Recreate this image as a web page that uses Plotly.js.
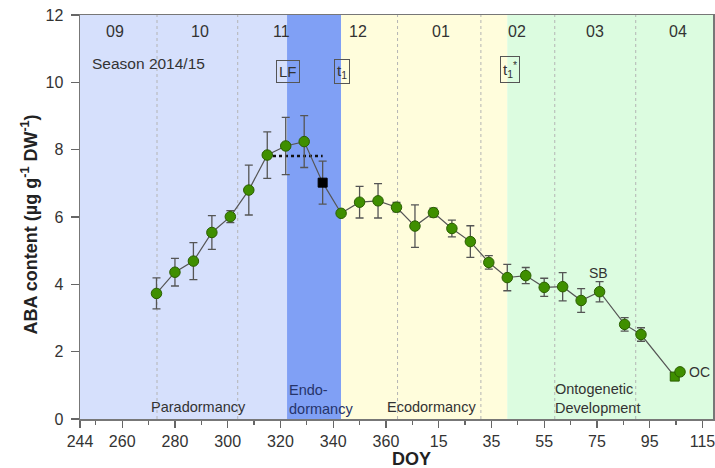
<!DOCTYPE html>
<html>
<head>
<meta charset="utf-8">
<script src="https://cdn.plot.ly/plotly-3.0.1.min.js"></script>
<style>html,body{margin:0;padding:0;background:#fff;}#chart{width:715px;height:468px;}</style>
</head>
<body>
<div id="chart"></div>
<script>
// ---- Data ----
const doy = [273,280,287,294,301,308,315,322,329,336,343,350,357,364,371,378,385,392,399,406,413,420,427,434,441,450.5,456.7,469.5,471.5];
const aba = [3.73,4.36,4.69,5.54,6.01,6.80,7.84,8.11,8.24,7.02,6.11,6.44,6.48,6.29,5.73,6.13,5.66,5.27,4.65,4.20,4.26,3.91,3.93,3.52,3.78,2.81,2.51,1.26,1.40];
const sd  = [0.46,0.41,0.55,0.50,0.18,0.74,0.69,0.85,0.77,0.64,0.00,0.47,0.51,0.14,0.63,0.13,0.25,0.47,0.20,0.39,0.24,0.27,0.42,0.35,0.30,0.20,0.20,0.00,0.00];
const forcedIdx = 9;      // black square sample
const ocSquareIdx = 27;   // green square sample
const meanLineX = [314.9, 336];
const meanLineY = [7.81, 7.81];

const phaseNames = ['Paradormancy','Endo-<br>dormancy','Ecodormancy','Ontogenetic<br>Development'];
const phaseStart = [244, 322.5, 343, 406];
const phaseEnd   = [322.5, 343, 406, 484];

const monthLabels = ['09','10','11','12','01','02','03','04'];
const monthMid = [257.3, 289.5, 320.5, 349.4, 380.8, 409.6, 439.1, 470.6];
const monthBounds = [273.2, 303.8, 364.4, 396, 424, 454.7];

const tickVals = [244,260,280,300,320,340,360,380,400,420,440,460,480];
const tickText = ['244','260','280','300','320','340','360','15','35','55','75','95','115'];
const minorVals = [250,270,290,310,330,350,370,390,410,430,450,470];

// ---- Styling ----
const FONT = 'Liberation Sans, Arial, sans-serif';
const TXT = '#333';
const phaseColors = ['#d6e0fc','#80a0f5','#fffddc','#dcfce0'];

const shapes = [];
phaseStart.forEach((s,i)=>{
  shapes.push({type:'rect', xref:'x', yref:'paper', x0:s, x1:phaseEnd[i], y0:0, y1:1,
    fillcolor:phaseColors[i], line:{width:0}, layer:'below'});
});
monthBounds.forEach(b=>{
  shapes.push({type:'line', xref:'x', yref:'paper', x0:b, x1:b, y0:0, y1:1,
    line:{color:'#b4b4b4', width:1, dash:'dot'}, layer:'below'});
});

const symbols = doy.map((d,i)=> (i===forcedIdx || i===ocSquareIdx) ? 'square' : 'circle');
const colors = doy.map((d,i)=> i===forcedIdx ? '#000000' : '#3f8f00');
const lineColors = doy.map((d,i)=> i===forcedIdx ? '#000000' : '#2a5e00');
const sizes = doy.map((d,i)=> (i===forcedIdx || i===ocSquareIdx) ? 9 : 10.5);

const traces = [
  {x: meanLineX, y: meanLineY, mode:'lines', line:{color:'#111', width:2.5, dash:'dot'}, hoverinfo:'skip', showlegend:false},
  {x: doy, y: aba, mode:'lines+markers',
   line:{color:'#555', width:1.2},
   marker:{symbol:symbols, color:colors, size:sizes, opacity:1, line:{color:lineColors, width:1}},
   error_y:{type:'data', array:sd, visible:true, color:'#555', thickness:1.3, width:4},
   showlegend:false}
];

const annotations = [];
monthLabels.forEach((m,i)=>{
  annotations.push({x:monthMid[i], y:11.52, xref:'x', yref:'y', text:m, showarrow:false,
    font:{family:FONT, size:16, color:TXT}, xanchor:'center', yanchor:'middle'});
});
annotations.push({x:(90-80)/633, y:(419-63.3)/404, xref:'paper', yref:'paper', text:'Season 2014/15', showarrow:false,
  font:{family:FONT, size:15.5, color:TXT}, xanchor:'left', yanchor:'middle'});
// phase labels
annotations.push({x:289.1, y:0.37, xref:'x', yref:'y', text:phaseNames[0], showarrow:false,
  font:{family:FONT, size:14.5, color:TXT}, xanchor:'center', yanchor:'middle'});
annotations.push({x:322.4, y:0.58, xref:'x', yref:'y', text:phaseNames[1], showarrow:false, align:'left',
  font:{family:FONT, size:14.5, color:'#26346a'}, xanchor:'left', yanchor:'middle'});
annotations.push({x:377.3, y:0.37, xref:'x', yref:'y', text:phaseNames[2], showarrow:false,
  font:{family:FONT, size:14.5, color:TXT}, xanchor:'center', yanchor:'middle'});
annotations.push({x:423.5, y:0.6, xref:'x', yref:'y', text:phaseNames[3], showarrow:false, align:'left',
  font:{family:FONT, size:14.5, color:TXT}, xanchor:'left', yanchor:'middle'});
// boxed markers
const boxes = [['LF',322.7,10.33],['t<sub>1</sub>',343.2,10.33],['t<sub>1</sub><sup>*</sup>',406.9,10.37]];
boxes.forEach(b=>{
  annotations.push({x:b[1], y:b[2], xref:'x', yref:'y', text:b[0], showarrow:false,
    font:{family:FONT, size:15, color:TXT}, xanchor:'center', yanchor:'middle',
    bordercolor:'#555', borderwidth:1, borderpad:2});
});
annotations.push({x:440.7, y:4.35, xref:'x', yref:'y', text:'SB', showarrow:false,
  font:{family:FONT, size:14, color:TXT}, xanchor:'center', yanchor:'middle'});
annotations.push({x:474.3, y:1.40, xref:'x', yref:'y', text:'OC', showarrow:false,
  font:{family:FONT, size:14, color:TXT}, xanchor:'left', yanchor:'middle'});
// axis titles
annotations.push({x:(411-80)/633, y:(419-459)/404, xref:'paper', yref:'paper', text:'<b>DOY</b>', showarrow:false,
  font:{family:FONT, size:18, color:'#222'}, xanchor:'center', yanchor:'middle'});
annotations.push({x:(30-80)/633, y:(419-224.5)/404, xref:'paper', yref:'paper',
  text:'<b>ABA content (µg g<sup>-1</sup> DW<sup>-1</sup>)</b>', showarrow:false, textangle:-90,
  font:{family:FONT, size:18, color:'#222'}, xanchor:'center', yanchor:'middle'});

const layout = {
  width:715, height:468,
  margin:{l:80, r:2, t:15, b:49},
  paper_bgcolor:'#fff', plot_bgcolor:'#fff',
  font:{family:FONT, color:TXT},
  showlegend:false,
  xaxis:{range:[244,484], tickmode:'array', tickvals:tickVals, ticktext:tickText,
    ticks:'outside', ticklen:7, tickwidth:1.2, tickcolor:'#666', ticklabeloverflow:'allow',
    minor:{tickmode:'array', tickvals:minorVals, ticks:'outside', ticklen:4, tickwidth:1.2, tickcolor:'#666'},
    showline:true, linecolor:'#777', linewidth:1.5, mirror:true, showgrid:false, zeroline:false,
    tickfont:{family:FONT, size:16, color:TXT}},
  yaxis:{range:[0,12], tickvals:[0,2,4,6,8,10,12], ticks:'outside', ticklen:8, tickwidth:1.2, tickcolor:'#666',
    showline:true, linecolor:'#777', linewidth:1.5, mirror:true, showgrid:false, zeroline:false,
    ticklabelstandoff:4,
    tickfont:{family:FONT, size:16, color:TXT}},
  shapes:shapes,
  annotations:annotations
};

Plotly.newPlot('chart', traces, layout, {displayModeBar:false, staticPlot:true});
</script>
</body>
</html>
